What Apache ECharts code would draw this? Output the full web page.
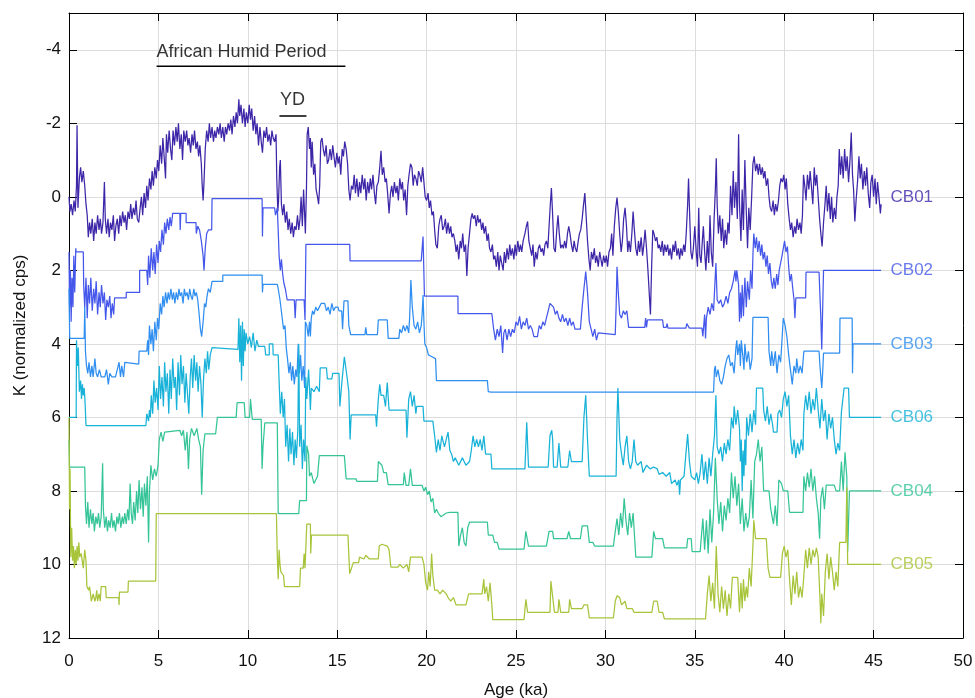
<!DOCTYPE html>
<html>
<head>
<meta charset="utf-8">
<title>K records CB01-CB06</title>
<script src="https://cdn.jsdelivr.net/npm/echarts@6.0.0/dist/echarts.min.js"></script>
<style>
  html, body { margin: 0; padding: 0; background: #fff; }
  #chart { width: 975px; height: 698px; }
</style>
</head>
<body>
<div id="chart"></div>
<script>
// ages in ka, K in normalized cps (axis is reversed)
const xTicks = [0, 5, 10, 15, 20, 25, 30, 35, 40, 45, 50]
const yTicks = [-4, -2, 0, 2, 4, 6, 8, 10, 12]

const seriesNames = ['CB01', 'CB02', 'CB03', 'CB06', 'CB04', 'CB05']
const seriesColors = ['#3e26a8', '#4557ea', '#2f8ef0', '#18b2d8', '#35c497', '#a7c43a']
const labelAge = 45.5
const labelK = [0, 2, 4, 6, 8, 10]

const ahpSpan = [4.9, 15.46]
const ahpK = -3.55
const ahpTextPos = [9.65, -3.95]
const ydSpan = [11.77, 13.28]
const ydK = -2.2
const ydTextPos = [12.5, -2.62]

const cb01 = [[0,0],[0.05,0.4],[0.12,0.2],[0.2,0.5],[0.28,0.1],[0.35,0.4],[0.42,-0.3],[0.45,-1.95],[0.5,0.3],[0.58,-0.5],[0.65,-0.8],[0.72,-0.4],[0.8,-0.7],[0.88,-0.3],[0.95,0.2],[1.02,0.5],[1.08,1.1],[1.15,0.7],[1.22,1.0],[1.3,0.6],[1.38,1.2],[1.45,0.7],[1.52,1.0],[1.6,0.5],[1.68,0.9],[1.75,0.6],[1.82,1.0],[1.9,0.7],[1.98,-0.4],[2.03,0.6],[2.1,1.0],[2.18,0.6],[2.25,1.1],[2.32,0.7],[2.4,0.9],[2.48,0.5],[2.55,1.2],[2.62,0.8],[2.7,0.6],[2.78,1.0],[2.85,0.5],[2.92,0.8],[3.0,0.4],[3.08,0.7],[3.15,0.5],[3.22,0.9],[3.3,0.4],[3.38,0.6],[3.45,0.2],[3.52,0.6],[3.6,0.3],[3.68,0.5],[3.75,0.1],[3.82,0.6],[3.9,0.7],[3.98,0.3],[4.05,0.0],[4.12,0.5],[4.2,-0.1],[4.28,0.3],[4.35,-0.3],[4.42,0.1],[4.5,-0.5],[4.58,-0.2],[4.65,-0.7],[4.72,-0.3],[4.8,-0.8],[4.88,-0.5],[4.95,-1.0],[5.02,-0.7],[5.1,-1.4],[5.18,-0.9],[5.25,-1.6],[5.32,-1.1],[5.4,-0.5],[5.45,-1.7],[5.52,-1.2],[5.6,-1.8],[5.68,-1.3],[5.75,-1.0],[5.82,-1.8],[5.9,-1.4],[5.98,-1.9],[6.05,-1.5],[6.12,-2.0],[6.2,-1.3],[6.28,-1.7],[6.35,-1.0],[6.42,-1.8],[6.5,-1.5],[6.58,-1.8],[6.65,-1.4],[6.72,-1.6],[6.8,-1.2],[6.88,-1.7],[6.95,-1.4],[7.02,-1.8],[7.1,-1.3],[7.18,-1.5],[7.25,-1.1],[7.32,-1.4],[7.4,-0.9],[7.45,-0.3],[7.5,0.1],[7.55,-0.4],[7.62,-1.3],[7.7,-1.8],[7.78,-1.5],[7.85,-2.0],[7.92,-1.6],[8.0,-1.9],[8.08,-1.5],[8.15,-1.8],[8.22,-1.6],[8.3,-1.9],[8.38,-1.7],[8.45,-2.0],[8.52,-1.6],[8.6,-1.9],[8.68,-1.5],[8.75,-1.9],[8.82,-1.7],[8.9,-2.0],[8.98,-1.8],[9.05,-2.1],[9.12,-1.7],[9.2,-2.2],[9.28,-1.9],[9.35,-2.3],[9.42,-2.0],[9.5,-2.65],[9.55,-2.2],[9.62,-2.5],[9.7,-2.0],[9.78,-2.4],[9.85,-1.9],[9.92,-2.3],[10.0,-2.0],[10.08,-2.5],[10.15,-2.1],[10.22,-2.4],[10.3,-1.8],[10.38,-2.2],[10.45,-1.7],[10.52,-2.0],[10.6,-1.4],[10.68,-1.9],[10.75,-1.5],[10.82,-1.2],[10.9,-1.8],[10.98,-1.6],[11.05,-1.9],[11.12,-1.5],[11.2,-1.7],[11.28,-1.4],[11.35,-1.8],[11.42,-1.6],[11.5,-1.5],[11.58,-1.7],[11.62,-0.5],[11.68,0.4],[11.72,0.1],[11.78,-0.8],[11.82,-1.0],[11.88,0.2],[11.95,0.5],[12.02,0.2],[12.1,0.7],[12.18,0.4],[12.25,0.9],[12.32,0.6],[12.4,1.0],[12.48,0.7],[12.55,1.1],[12.62,0.8],[12.7,0.9],[12.78,0.5],[12.85,0.9],[12.92,0.6],[12.98,0.0],[13.05,0.8],[13.12,-0.2],[13.18,0.5],[13.22,1.0],[13.28,-0.2],[13.32,-1.7],[13.38,-1.9],[13.45,-1.3],[13.5,-1.6],[13.55,-0.8],[13.6,-1.5],[13.68,-0.6],[13.75,-0.9],[13.82,-0.2],[13.9,0.0],[13.96,0.2],[14.02,-0.3],[14.08,-1.5],[14.15,-1.6],[14.22,-1.3],[14.3,-1.1],[14.38,-1.4],[14.45,-0.9],[14.52,-1.0],[14.6,-1.3],[14.68,-1.0],[14.75,-1.4],[14.82,-1.1],[14.9,-0.8],[14.98,-1.2],[15.05,-0.9],[15.12,-1.1],[15.2,-0.6],[15.28,-1.3],[15.35,-1.1],[15.42,-1.5],[15.5,-1.3],[15.58,-0.9],[15.65,-0.2],[15.72,0.1],[15.8,-0.3],[15.88,-0.2],[15.95,-0.6],[16.02,-0.1],[16.1,-0.5],[16.18,0.0],[16.25,-0.4],[16.32,-0.1],[16.4,-0.6],[16.48,-0.2],[16.55,-0.5],[16.62,0.1],[16.7,-0.4],[16.78,-0.1],[16.85,-0.5],[16.92,-0.2],[17.0,-0.6],[17.08,-0.1],[17.15,0.2],[17.22,-0.3],[17.3,-0.4],[17.38,-0.8],[17.45,-1.25],[17.52,-0.6],[17.6,-0.8],[17.68,-0.4],[17.75,-0.5],[17.82,-0.1],[17.9,0.45],[17.98,-0.1],[18.05,-0.3],[18.12,0.0],[18.2,-0.4],[18.28,-0.1],[18.35,-0.3],[18.42,0.1],[18.5,-0.5],[18.58,-0.2],[18.65,-0.4],[18.72,0.1],[18.8,-0.2],[18.88,0.5],[18.95,-0.3],[19.02,-0.6],[19.1,-0.9],[19.18,-0.8],[19.25,-0.3],[19.32,-0.6],[19.4,-0.5],[19.48,-0.3],[19.55,-0.7],[19.62,-0.6],[19.7,-0.4],[19.78,-0.8],[19.85,-0.4],[19.92,0.0],[20.0,0.1],[20.08,-0.1],[20.15,0.3],[20.22,0.1],[20.3,0.5],[20.38,0.4],[20.45,0.9],[20.52,1.3],[20.6,1.4],[20.68,0.8],[20.75,0.6],[20.82,0.5],[20.9,0.9],[20.98,0.8],[21.05,0.6],[21.12,1.0],[21.2,0.7],[21.28,1.0],[21.35,0.8],[21.42,1.1],[21.5,1.0],[21.58,1.2],[21.65,1.5],[21.72,1.3],[21.8,1.7],[21.88,1.2],[21.95,1.4],[22.02,1.0],[22.1,1.5],[22.18,1.3],[22.25,2.15],[22.32,1.4],[22.4,1.0],[22.48,0.6],[22.55,0.45],[22.62,0.6],[22.7,0.5],[22.78,0.8],[22.85,0.5],[22.92,0.7],[23.0,0.6],[23.08,0.9],[23.15,0.7],[23.22,1.0],[23.3,0.8],[23.38,1.2],[23.45,1.0],[23.52,1.4],[23.6,1.5],[23.68,1.3],[23.75,1.7],[23.82,1.6],[23.9,1.9],[23.98,1.5],[24.05,2.0],[24.12,1.6],[24.2,1.8],[24.28,2.0],[24.35,1.5],[24.42,1.8],[24.5,1.4],[24.58,1.7],[24.65,1.3],[24.72,1.6],[24.8,1.4],[24.88,1.7],[24.95,1.3],[25.02,1.6],[25.1,1.2],[25.18,1.5],[25.25,1.3],[25.32,1.5],[25.4,1.2],[25.5,1.0],[25.58,0.8],[25.65,0.67],[25.72,1.2],[25.8,1.4],[25.88,1.6],[25.95,1.3],[26.02,1.9],[26.1,1.5],[26.18,1.7],[26.25,1.4],[26.32,1.3],[26.4,1.5],[26.48,1.4],[26.55,1.6],[26.62,1.3],[26.7,1.2],[26.78,1.4],[26.85,0.8],[26.92,0.2],[26.98,-0.24],[27.05,0.5],[27.12,1.4],[27.2,1.5],[27.28,0.9],[27.35,0.5],[27.42,1.0],[27.5,1.4],[27.58,1.3],[27.65,1.4],[27.72,1.2],[27.8,1.4],[27.88,1.0],[27.95,0.8],[28.02,1.0],[28.1,1.3],[28.18,1.5],[28.25,1.2],[28.32,1.4],[28.4,1.5],[28.48,1.2],[28.55,1.0],[28.62,0.9],[28.7,0.6],[28.78,0.2],[28.85,-0.1],[28.92,0.5],[29.0,1.2],[29.08,1.7],[29.15,2.0],[29.22,1.5],[29.3,1.7],[29.38,1.4],[29.45,1.8],[29.52,1.6],[29.6,1.9],[29.68,1.5],[29.75,1.7],[29.82,1.9],[29.9,1.6],[29.98,1.8],[30.05,1.6],[30.12,1.9],[30.2,1.5],[30.28,1.4],[30.35,1.0],[30.42,1.6],[30.5,0.8],[30.58,0.3],[30.65,0.02],[30.72,0.4],[30.8,1.0],[30.88,1.5],[30.95,1.2],[31.02,0.6],[31.1,0.3],[31.18,0.8],[31.25,1.5],[31.32,1.2],[31.4,1.5],[31.48,1.0],[31.55,0.4],[31.62,0.9],[31.7,1.4],[31.78,1.6],[31.85,1.2],[31.92,1.5],[32.0,1.1],[32.08,1.6],[32.15,1.3],[32.22,0.9],[32.3,1.4],[32.38,2.0],[32.45,2.6],[32.52,3.2],[32.58,2.0],[32.65,0.9],[32.72,1.0],[32.8,1.2],[32.88,1.1],[32.95,1.4],[33.02,1.3],[33.1,1.5],[33.18,1.2],[33.25,1.6],[33.32,1.3],[33.4,1.5],[33.48,1.3],[33.55,1.6],[33.62,1.4],[33.7,1.7],[33.78,1.3],[33.85,1.5],[33.92,1.2],[34.0,1.6],[34.08,1.4],[34.15,1.7],[34.22,1.4],[34.3,1.6],[34.38,1.3],[34.45,1.5],[34.52,1.0],[34.6,0.2],[34.65,-0.5],[34.7,0.3],[34.78,1.5],[34.85,1.7],[34.92,1.4],[35.0,0.8],[35.08,1.5],[35.15,1.9],[35.22,0.3],[35.28,1.6],[35.35,1.8],[35.42,1.2],[35.48,0.8],[35.55,1.5],[35.62,2.0],[35.7,1.2],[35.78,1.8],[35.85,0.5],[35.92,1.5],[36.0,1.9],[36.08,0.6],[36.15,-0.2],[36.2,-1.05],[36.25,0.2],[36.32,1.0],[36.4,0.5],[36.48,1.2],[36.55,0.6],[36.62,1.4],[36.7,0.9],[36.78,1.3],[36.85,0.7],[36.92,1.0],[37.0,-0.3],[37.08,0.5],[37.15,-0.7],[37.22,0.3],[37.3,-0.4],[37.38,0.6],[37.45,-1.7],[37.5,0.2],[37.58,1.2],[37.65,-0.2],[37.72,0.9],[37.8,-1.0],[37.88,0.4],[37.95,1.4],[38.02,0.3],[38.1,0.9],[38.18,0.0],[38.25,-0.9],[38.32,-1.1],[38.4,-0.7],[38.48,-0.9],[38.55,-0.6],[38.62,-0.9],[38.7,-0.6],[38.78,-0.8],[38.85,-0.5],[38.92,-0.7],[39.0,-0.3],[39.08,-0.5],[39.15,0.0],[39.22,0.3],[39.3,0.4],[39.38,0.1],[39.45,0.5],[39.52,0.2],[39.6,0.4],[39.68,0.1],[39.75,-0.3],[39.82,-0.5],[39.9,-0.4],[39.98,-0.6],[40.05,-0.2],[40.12,-0.5],[40.2,0.2],[40.28,0.6],[40.35,0.9],[40.42,0.7],[40.5,1.1],[40.58,0.8],[40.65,1.0],[40.72,0.6],[40.8,0.9],[40.88,0.7],[40.95,1.0],[41.02,0.5],[41.08,-0.6],[41.15,-0.3],[41.22,0.1],[41.3,-0.6],[41.38,-0.2],[41.45,-0.7],[41.52,-0.3],[41.6,0.2],[41.68,-0.8],[41.75,-0.3],[41.82,-0.6],[41.9,0.0],[41.98,0.6],[42.05,1.0],[42.12,1.35],[42.2,0.7],[42.28,0.2],[42.35,-0.3],[42.42,0.4],[42.5,-0.1],[42.58,0.6],[42.65,0.0],[42.72,0.7],[42.8,0.3],[42.88,0.6],[42.95,0.0],[43.02,-0.3],[43.08,-1.3],[43.15,-0.6],[43.22,-1.1],[43.3,-0.5],[43.38,-1.3],[43.45,-0.7],[43.52,-1.1],[43.6,-0.4],[43.68,-1.0],[43.75,-1.75],[43.82,-0.6],[43.88,-0.2],[43.95,0.67],[44.02,0.1],[44.1,-0.4],[44.18,-1.1],[44.25,-0.5],[44.32,-0.9],[44.4,-0.2],[44.48,-0.7],[44.55,-0.3],[44.62,-0.8],[44.7,-0.1],[44.78,0.3],[44.85,-0.4],[44.92,-0.6],[45.0,0.0],[45.08,-0.5],[45.15,0.2],[45.22,-0.4],[45.3,0.0],[45.38,0.45],[45.42,0.2]]

const cb02 = [[0,1.5],[0.03,3.0],[0.08,2.0],[0.12,3.4],[0.17,2.2],[0.22,3.0],[0.27,1.6],[0.32,2.6],[0.38,1.4],[0.4,1.5],[0.8,1.5],[0.82,2.4],[0.88,3.0],[0.95,2.2],[1.02,3.3],[1.08,2.4],[1.15,2.9],[1.22,2.2],[1.3,3.1],[1.38,2.5],[1.45,2.9],[1.52,2.3],[1.6,3.2],[1.68,2.6],[1.75,3.0],[1.82,2.4],[1.9,2.9],[1.98,2.6],[2.05,3.35],[2.12,2.8],[2.2,3.0],[2.28,2.7],[2.35,3.3],[2.42,2.9],[2.5,3.2],[2.55,2.75],[3.2,2.75],[3.2,2.6],[3.95,2.6],[3.95,2.0],[4.35,2.0],[4.4,2.4],[4.45,1.6],[4.52,2.2],[4.6,1.4],[4.68,2.0],[4.75,1.5],[4.82,2.1],[4.9,1.3],[4.98,1.8],[5.05,1.2],[5.12,1.5],[5.2,0.9],[5.28,1.3],[5.35,0.7],[5.42,1.0],[5.5,0.6],[5.58,0.9],[5.65,0.55],[5.72,0.8],[5.8,0.45],[6.2,0.45],[6.22,0.9],[6.25,0.45],[6.55,0.45],[6.55,0.7],[7.1,0.7],[7.12,1.0],[7.2,0.8],[7.3,0.9],[7.4,1.2],[7.5,1.6],[7.55,2.0],[7.62,1.4],[7.7,1.0],[7.8,0.9],[7.98,0.9],[8.0,0.05],[10.8,0.05],[10.82,1.08],[10.85,0.3],[11.5,0.3],[11.55,0.5],[11.65,0.3],[11.7,0.9],[11.75,1.6],[11.82,2.0],[11.88,1.7],[11.95,2.1],[12.02,2.35],[12.1,2.5],[12.2,2.8],[12.6,2.8],[12.65,3.3],[12.7,2.8],[13.15,2.8],[13.2,3.35],[13.25,1.29],[15.7,1.29],[15.72,1.74],[19.7,1.74],[19.8,1.08],[19.88,2.7],[21.75,2.7],[21.76,3.18],[23.65,3.18],[23.75,3.6],[23.85,3.9],[23.95,3.6],[24.05,3.8],[24.15,3.5],[24.25,4.25],[24.32,3.7],[24.4,3.6],[24.5,3.9],[24.6,3.6],[24.7,3.8],[24.8,3.6],[24.9,3.7],[25.0,3.4],[25.1,3.5],[25.2,3.25],[25.3,3.6],[25.4,3.4],[25.5,3.5],[25.6,3.3],[25.7,3.6],[25.8,3.5],[25.9,3.6],[26.0,3.8],[26.2,3.8],[26.3,3.5],[26.4,3.6],[26.5,3.4],[26.6,3.5],[26.7,3.3],[26.8,3.1],[26.9,2.9],[27.0,2.85],[27.1,3.0],[27.2,3.2],[27.3,3.1],[27.4,3.3],[27.5,3.4],[27.6,3.2],[27.7,3.4],[27.8,3.3],[27.9,3.5],[28.0,3.3],[28.1,3.5],[28.2,3.4],[28.3,3.6],[28.4,3.55],[28.6,3.6],[28.7,3.0],[28.8,2.5],[28.9,2.03],[29.0,2.6],[29.1,3.4],[29.2,3.6],[29.3,3.8],[29.4,3.6],[29.5,3.9],[29.6,3.7],[29.7,3.75],[30.55,3.75],[30.6,3.0],[30.65,1.9],[30.72,2.6],[30.8,3.2],[30.9,3.3],[31.0,3.1],[31.1,3.2],[31.2,3.1],[31.3,3.55],[32.2,3.55],[32.25,3.3],[32.3,3.55],[32.35,3.35],[33.2,3.35],[33.25,3.55],[33.4,3.55],[33.45,3.45],[33.5,3.57],[34.5,3.57],[34.55,3.45],[34.65,3.45],[34.7,3.57],[35.4,3.57],[35.45,3.8],[35.55,3.2],[35.6,3.85],[35.65,3.3],[35.75,3.0],[35.85,3.2],[35.95,2.9],[36.05,3.1],[36.12,2.4],[36.18,1.8],[36.25,2.8],[36.35,2.9],[36.45,2.8],[36.55,3.0],[36.65,2.9],[36.75,2.7],[36.85,2.9],[36.95,2.6],[37.05,2.5],[37.15,2.3],[37.25,2.0],[37.3,2.3],[37.35,2.0],[37.45,2.4],[37.5,3.4],[37.55,2.6],[37.6,3.3],[37.65,2.4],[37.72,3.25],[37.8,2.2],[37.88,3.0],[37.95,2.3],[38.05,2.8],[38.12,2.0],[38.2,2.5],[38.25,1.6],[38.3,1.0],[38.38,1.4],[38.45,1.1],[38.52,1.5],[38.6,1.2],[38.68,1.6],[38.75,1.3],[38.82,1.7],[38.9,1.5],[38.98,1.9],[39.05,1.6],[39.12,2.1],[39.2,1.8],[39.28,2.3],[39.35,2.5],[39.42,2.2],[39.5,2.5],[39.58,2.1],[39.65,2.4],[39.72,2.0],[39.8,1.8],[39.88,1.6],[39.95,1.4],[40.02,1.2],[40.1,1.5],[40.18,1.35],[40.25,1.9],[40.32,2.3],[40.4,2.1],[40.48,2.5],[40.55,2.8],[40.6,3.3],[40.65,2.75],[41.2,2.75],[41.22,2.05],[41.95,2.05],[42.0,2.7],[42.05,3.3],[42.1,4.15],[42.18,4.15],[42.2,2.0],[45.42,2.0]]

const cb03 = [[0,2.5],[0.04,3.85],[0.85,3.85],[0.88,3.0],[0.92,4.2],[0.98,4.6],[1.05,4.8],[1.12,4.5],[1.2,4.9],[1.28,4.6],[1.35,4.9],[1.45,4.4],[1.52,4.8],[1.6,4.9],[1.7,4.7],[1.8,4.9],[1.9,4.85],[2.0,4.9],[2.1,4.7],[2.2,5.1],[2.28,4.8],[2.4,4.9],[2.5,4.86],[2.6,4.9],[2.7,4.7],[2.8,4.5],[2.88,4.9],[2.95,4.6],[3.05,4.9],[3.12,4.5],[3.2,4.55],[3.9,4.55],[3.92,4.2],[4.35,4.2],[4.4,3.9],[4.45,4.3],[4.5,3.5],[4.58,4.0],[4.65,3.6],[4.72,4.2],[4.8,3.4],[4.88,3.9],[4.95,3.3],[5.02,3.6],[5.1,2.9],[5.18,3.2],[5.25,2.7],[5.32,3.0],[5.4,2.6],[5.48,2.9],[5.55,2.6],[5.62,2.8],[5.7,2.5],[5.78,2.8],[5.85,2.6],[5.92,2.9],[6.0,2.6],[6.08,2.8],[6.15,2.5],[6.22,2.7],[6.3,2.6],[6.38,2.9],[6.45,2.5],[6.52,2.7],[6.6,2.6],[6.68,2.8],[6.75,2.5],[6.82,2.7],[6.9,2.8],[6.98,2.5],[7.05,2.7],[7.12,2.6],[7.2,2.8],[7.28,3.2],[7.35,3.6],[7.42,3.8],[7.5,3.4],[7.58,2.9],[7.65,3.0],[7.72,2.7],[7.8,2.5],[7.9,2.6],[8.0,2.3],[8.6,2.3],[8.6,2.13],[10.8,2.13],[10.82,2.6],[10.85,2.38],[11.65,2.38],[11.7,2.5],[11.8,2.8],[11.9,3.2],[12.0,3.6],[12.08,3.5],[12.15,4.1],[12.22,4.4],[12.3,4.8],[12.38,4.5],[12.45,5.0],[12.52,4.6],[12.6,5.1],[12.68,4.7],[12.75,4.9],[12.82,4.0],[12.88,4.8],[12.95,4.3],[13.02,5.0],[13.1,4.6],[13.18,5.2],[13.22,3.4],[13.3,3.5],[13.38,3.8],[13.45,3.4],[13.5,3.8],[13.55,3.3],[13.62,3.1],[13.7,3.2],[13.8,3.0],[13.9,3.1],[14.0,3.0],[14.1,2.9],[14.3,2.9],[14.4,3.1],[14.5,3.0],[14.6,3.2],[14.7,2.9],[14.8,3.1],[14.9,3.0],[15.05,3.0],[15.1,3.1],[15.25,3.1],[15.3,3.6],[15.38,2.83],[15.6,2.83],[15.65,3.5],[15.75,3.75],[16.55,3.75],[16.6,3.55],[16.65,3.75],[17.25,3.75],[17.3,3.35],[17.8,3.35],[17.85,3.85],[18.45,3.85],[18.5,3.6],[18.6,3.7],[18.7,3.5],[18.8,3.65],[18.9,3.5],[19.0,3.7],[19.05,3.3],[19.12,2.26],[19.2,3.0],[19.3,3.5],[19.4,3.6],[19.5,3.4],[19.6,3.7],[19.7,3.5],[19.75,3.2],[19.8,2.67],[19.85,3.4],[19.9,4.0],[20.0,4.1],[20.1,4.3],[20.3,4.35],[20.5,4.4],[20.55,5.0],[23.4,5.0],[23.45,5.3],[23.6,5.31],[36.05,5.31],[36.1,4.7],[36.15,4.6],[36.2,4.9],[36.3,4.7],[36.4,5.0],[36.5,5.1],[36.6,4.9],[36.7,4.6],[36.8,4.4],[36.9,4.3],[37.0,4.6],[37.1,4.5],[37.2,4.8],[37.3,4.1],[37.35,3.9],[37.4,4.3],[37.5,4.0],[37.55,4.6],[37.6,3.9],[37.7,4.4],[37.75,4.7],[37.8,4.0],[37.9,4.5],[38.0,4.2],[38.1,4.7],[38.2,4.4],[38.25,3.28],[39.1,3.28],[39.15,4.2],[39.25,4.6],[39.3,4.2],[39.4,4.6],[39.5,4.2],[39.6,4.8],[39.7,4.3],[39.8,4.5],[39.9,3.7],[39.95,3.3],[40.05,3.5],[40.15,3.8],[40.25,4.3],[40.35,4.7],[40.45,5.1],[40.55,4.6],[40.65,4.8],[40.7,4.4],[40.8,4.8],[40.9,4.6],[41.0,4.8],[41.1,4.2],[41.95,4.2],[42.0,4.6],[42.1,5.2],[42.15,4.8],[42.2,4.25],[43.1,4.25],[43.12,3.3],[43.8,3.3],[43.82,4.8],[43.85,4.0],[45.42,4.0]]

const cb06 = [[0,6.0],[0.4,6.0],[0.42,3.9],[0.47,4.6],[0.52,4.1],[0.58,5.3],[0.65,5.0],[0.7,5.5],[0.75,5.1],[0.8,5.4],[0.85,5.2],[0.9,5.6],[0.95,6.22],[4.3,6.22],[4.35,5.9],[4.45,6.1],[4.5,5.8],[4.55,6.0],[4.6,5.4],[4.68,5.9],[4.75,5.0],[4.82,5.6],[4.9,5.2],[4.98,5.8],[5.05,4.6],[5.12,5.5],[5.2,4.9],[5.28,5.7],[5.35,4.5],[5.42,5.3],[5.5,4.8],[5.58,5.9],[5.65,4.7],[5.72,5.5],[5.8,4.4],[5.88,5.2],[5.95,4.9],[6.02,5.8],[6.1,4.5],[6.18,5.4],[6.25,4.3],[6.32,5.1],[6.4,4.6],[6.48,5.6],[6.55,4.8],[6.62,5.3],[6.7,5.9],[6.78,4.9],[6.85,4.4],[6.92,5.2],[7.0,4.3],[7.08,5.0],[7.15,4.5],[7.22,5.3],[7.3,4.6],[7.38,5.1],[7.45,6.0],[7.52,5.0],[7.6,4.4],[7.68,4.8],[7.75,4.2],[7.82,4.7],[7.9,4.3],[8.0,4.1],[8.1,4.15],[9.45,4.15],[9.5,3.3],[9.55,4.5],[9.6,3.5],[9.65,5.0],[9.7,3.4],[9.75,4.6],[9.8,3.6],[9.85,4.2],[9.9,3.7],[10.0,4.0],[10.1,3.8],[10.2,4.1],[10.3,3.7],[10.4,4.2],[10.5,3.9],[10.6,4.07],[10.95,4.07],[11.0,4.3],[11.2,4.3],[11.2,4.0],[11.4,4.0],[11.42,4.3],[11.7,4.3],[11.75,5.0],[11.82,5.9],[11.9,5.3],[11.98,6.0],[12.05,5.5],[12.12,6.8],[12.2,6.2],[12.28,7.2],[12.35,6.3],[12.42,7.0],[12.5,6.4],[12.58,7.3],[12.65,6.6],[12.72,7.1],[12.8,6.3],[12.85,4.0],[12.9,6.8],[12.98,6.2],[13.05,7.4],[13.12,6.6],[13.2,7.2],[13.24,4.9],[13.3,5.5],[13.4,4.7],[13.45,5.2],[13.5,5.8],[13.55,5.2],[13.7,5.3],[13.85,5.15],[14.0,5.3],[14.05,4.65],[14.4,4.65],[14.45,4.95],[14.7,4.95],[14.75,4.8],[15.1,4.8],[15.15,5.7],[15.25,5.1],[15.4,4.35],[15.55,4.9],[15.65,5.3],[15.72,6.6],[15.78,5.93],[17.15,5.93],[17.2,6.25],[17.3,5.5],[17.38,5.1],[17.45,5.4],[17.6,5.4],[17.7,5.7],[17.8,5.05],[17.9,5.8],[18.85,5.8],[18.9,6.55],[19.0,5.5],[19.1,5.3],[19.2,5.7],[19.3,5.4],[19.4,5.9],[19.45,5.7],[19.8,5.7],[19.85,6.1],[20.35,6.1],[20.45,6.5],[20.55,6.95],[20.65,6.6],[20.75,6.9],[20.85,6.5],[21.0,6.8],[21.1,6.6],[21.2,6.4],[21.3,6.9],[21.4,7.0],[21.5,7.2],[21.6,7.1],[21.8,7.3],[22.0,7.1],[22.2,7.3],[22.4,7.2],[22.5,6.9],[22.6,6.5],[22.7,6.8],[22.8,6.6],[22.9,6.8],[23.0,6.6],[23.1,6.9],[23.2,6.5],[23.3,7.0],[23.6,7.0],[23.65,7.4],[25.5,7.4],[25.6,6.13],[25.7,7.35],[26.8,7.35],[26.9,6.5],[27.0,6.35],[27.05,6.6],[27.1,7.35],[27.3,7.35],[27.4,6.7],[27.5,7.35],[27.9,7.35],[28.0,6.9],[28.1,7.2],[28.7,7.2],[28.8,6.0],[28.9,5.4],[29.0,6.6],[29.1,7.6],[30.6,7.6],[30.65,6.0],[30.7,5.2],[30.8,6.6],[30.9,7.0],[31.0,7.3],[31.1,6.8],[31.2,6.5],[31.3,7.2],[31.4,7.4],[31.5,7.2],[31.6,6.6],[31.7,7.2],[31.8,7.3],[32.0,7.2],[32.1,7.5],[32.2,7.4],[32.3,7.3],[32.5,7.4],[32.7,7.35],[32.9,7.4],[33.0,7.55],[33.2,7.5],[33.4,7.6],[33.6,7.5],[33.7,7.8],[33.9,7.7],[34.0,7.85],[34.1,7.7],[34.15,8.1],[34.2,7.7],[34.4,7.6],[34.5,7.0],[34.6,6.45],[34.7,7.2],[34.8,7.6],[35.0,7.7],[35.1,7.5],[35.2,7.8],[35.3,7.5],[35.4,7.0],[35.5,7.7],[35.6,7.2],[35.7,7.8],[35.8,7.1],[35.9,7.6],[36.0,7.0],[36.1,6.5],[36.18,5.4],[36.25,6.8],[36.35,7.0],[36.45,6.8],[36.55,7.2],[36.65,6.7],[36.75,7.0],[36.85,6.6],[36.95,6.9],[37.05,6.0],[37.15,6.3],[37.2,5.7],[37.3,6.2],[37.4,5.8],[37.5,6.3],[37.55,7.2],[37.6,6.6],[37.65,8.0],[37.7,6.9],[37.75,7.6],[37.8,6.6],[37.85,7.3],[37.9,6.0],[38.0,6.5],[38.1,5.9],[38.2,6.4],[38.3,5.8],[38.4,6.2],[38.45,5.2],[38.8,5.2],[38.85,5.8],[38.95,6.1],[39.05,5.7],[39.15,6.2],[39.25,5.9],[39.35,6.2],[39.4,6.4],[39.6,6.4],[39.65,5.9],[39.75,5.8],[39.85,6.0],[39.95,5.5],[40.05,5.3],[40.15,5.7],[40.25,5.4],[40.35,6.5],[40.45,7.0],[40.55,6.6],[40.65,7.1],[40.75,6.7],[40.85,7.0],[40.95,6.6],[41.05,6.9],[41.1,5.9],[41.2,5.4],[41.3,5.8],[41.4,5.3],[41.5,5.9],[41.6,5.5],[41.7,5.8],[41.8,5.2],[41.9,5.8],[42.0,6.3],[42.1,5.5],[42.2,6.1],[42.3,5.8],[42.4,6.6],[42.5,5.9],[42.6,6.3],[42.7,6.0],[42.8,6.6],[42.9,7.0],[43.0,6.7],[43.1,6.9],[43.2,5.85],[43.35,5.2],[43.6,5.2],[43.65,6.0],[45.42,6.0]]

const cb04 = [[0,6.6],[0.03,7.35],[0.88,7.35],[0.92,8.4],[0.98,8.9],[1.05,8.3],[1.12,9.0],[1.2,8.5],[1.28,8.9],[1.35,8.6],[1.42,9.1],[1.5,8.7],[1.58,8.9],[1.65,8.6],[1.72,9.0],[1.8,8.7],[1.88,7.25],[1.92,8.5],[2.0,9.0],[2.08,8.7],[2.15,9.1],[2.22,8.8],[2.3,9.0],[2.38,8.6],[2.45,9.0],[2.52,8.8],[2.6,9.1],[2.68,8.7],[2.75,8.9],[2.82,8.6],[2.9,9.0],[2.98,8.7],[3.05,8.9],[3.12,8.6],[3.2,8.9],[3.28,8.5],[3.35,8.8],[3.42,7.8],[3.48,8.6],[3.55,8.9],[3.62,8.3],[3.7,8.8],[3.78,8.0],[3.85,8.6],[3.92,7.7],[4.0,8.5],[4.08,7.9],[4.15,8.7],[4.22,7.8],[4.3,8.4],[4.38,7.6],[4.45,9.4],[4.5,8.0],[4.58,7.3],[4.68,7.7],[4.78,7.4],[4.88,7.6],[4.98,7.3],[5.05,6.6],[5.15,6.4],[5.25,6.65],[5.35,6.4],[5.4,6.35],[6.2,6.35],[6.3,6.5],[6.4,6.35],[6.5,6.9],[6.6,6.4],[6.68,7.4],[6.75,6.6],[6.85,6.3],[7.0,6.5],[7.15,6.3],[7.25,6.6],[7.35,6.8],[7.42,8.1],[7.5,6.9],[7.6,6.45],[8.2,6.45],[8.3,6.0],[9.35,6.0],[9.4,5.6],[9.8,5.6],[9.85,6.0],[10.1,6.0],[10.15,5.5],[10.25,6.05],[10.75,6.05],[10.8,7.4],[10.85,6.8],[10.95,6.15],[11.65,6.15],[11.7,8.62],[12.85,8.62],[12.9,8.26],[13.28,8.26],[13.3,6.77],[13.4,7.0],[13.45,7.6],[13.55,7.5],[13.7,7.8],[13.9,7.6],[14.0,7.04],[15.4,7.04],[15.5,7.67],[16.05,7.67],[16.1,7.74],[17.25,7.74],[17.3,7.2],[17.5,7.3],[17.6,7.5],[17.75,7.5],[17.85,7.83],[18.7,7.83],[18.75,7.5],[18.85,7.85],[19.0,7.85],[19.1,7.4],[19.2,7.85],[19.75,7.85],[19.85,8.0],[19.95,7.9],[20.05,8.1],[20.15,8.0],[20.25,8.3],[20.35,8.2],[20.45,8.6],[20.55,8.5],[20.65,8.6],[20.8,8.7],[21.1,8.6],[21.3,8.58],[21.75,8.58],[21.8,9.5],[21.9,9.2],[22.0,9.0],[22.1,9.4],[22.2,9.5],[22.3,9.0],[22.4,8.85],[23.4,8.85],[23.45,9.2],[23.7,9.2],[23.8,9.4],[23.95,9.4],[24.05,9.58],[25.45,9.58],[25.55,9.1],[25.7,9.5],[26.7,9.5],[26.85,9.1],[27.05,9.1],[27.1,9.3],[27.85,9.3],[27.95,9.1],[28.05,9.3],[28.6,9.3],[28.7,8.95],[29.0,8.95],[29.1,9.4],[29.3,9.4],[29.4,9.5],[30.45,9.5],[30.55,9.1],[30.65,8.75],[30.75,9.2],[30.85,8.6],[30.95,9.0],[31.05,8.2],[31.15,8.8],[31.25,9.2],[31.35,8.6],[31.45,9.0],[31.55,8.6],[31.7,9.8],[32.6,9.8],[32.7,9.1],[32.8,9.3],[33.2,9.3],[33.3,9.55],[34.55,9.55],[34.6,9.3],[34.8,9.3],[34.85,9.65],[35.3,9.65],[35.45,8.75],[35.55,9.6],[35.65,8.8],[35.75,9.7],[35.85,8.5],[35.95,9.4],[36.05,8.6],[36.15,7.1],[36.25,8.2],[36.35,8.9],[36.45,8.3],[36.55,9.1],[36.65,8.4],[36.75,8.8],[36.85,8.2],[36.95,8.6],[37.05,7.5],[37.15,8.2],[37.25,7.6],[37.35,8.4],[37.45,7.8],[37.55,8.9],[37.65,8.2],[37.75,9.1],[37.85,8.6],[37.95,9.0],[38.05,8.7],[38.15,7.7],[38.25,8.75],[38.35,7.2],[38.45,7.0],[38.55,6.6],[38.65,7.2],[38.75,6.8],[38.85,8.0],[39.15,8.0],[39.25,8.5],[39.4,8.9],[39.5,8.4],[39.6,8.95],[39.7,7.7],[39.85,7.8],[39.95,8.0],[40.2,8.0],[40.3,8.58],[41.05,8.58],[41.1,7.6],[41.2,8.0],[41.3,7.5],[41.4,7.9],[41.5,7.4],[41.6,8.0],[41.7,7.6],[41.8,8.2],[41.9,8.6],[41.98,9.3],[42.05,8.2],[42.15,7.9],[42.25,8.5],[42.35,7.84],[42.8,7.84],[42.9,8.0],[43.1,8.0],[43.2,7.2],[43.3,8.0],[43.4,6.95],[43.5,7.6],[43.55,9.65],[43.62,9.65],[43.65,8.0],[45.42,8.0]]

const cb05 = [[0,6.0],[0.03,8.5],[0.06,7.4],[0.1,9.8],[0.15,9.0],[0.2,9.9],[0.25,9.5],[0.3,10.1],[0.35,9.6],[0.4,10.0],[0.45,9.5],[0.5,9.9],[0.55,9.4],[0.6,9.8],[0.68,9.7],[0.75,9.7],[0.8,10.1],[0.88,9.6],[0.95,9.9],[1.0,10.6],[1.1,10.7],[1.15,10.6],[1.25,11.0],[1.35,10.8],[1.45,11.0],[1.5,10.9],[1.55,10.7],[1.6,11.0],[1.68,10.8],[1.75,11.0],[1.8,10.6],[2.05,10.6],[2.08,10.9],[2.78,10.9],[2.8,11.1],[2.82,10.75],[3.3,10.75],[3.32,10.45],[4.85,10.45],[4.88,8.62],[11.6,8.62],[11.65,9.8],[11.7,10.4],[11.75,9.6],[11.8,10.0],[11.85,10.2],[12.0,10.3],[12.05,10.6],[12.9,10.6],[12.95,10.1],[13.1,10.1],[13.15,9.7],[13.2,10.1],[13.3,8.9],[13.5,8.9],[13.52,9.7],[13.56,9.2],[15.6,9.2],[15.7,10.25],[15.8,10.1],[15.9,9.95],[16.2,9.95],[16.25,9.8],[16.5,9.85],[16.6,9.75],[16.8,9.85],[17.3,9.85],[17.35,9.5],[17.5,9.45],[17.8,9.5],[17.9,9.6],[18.0,10.07],[18.4,10.07],[18.5,10.0],[18.7,10.1],[18.9,10.0],[19.0,10.2],[19.1,9.8],[19.75,9.8],[19.85,10.0],[19.95,10.5],[20.05,10.7],[20.12,10.2],[20.2,10.6],[20.28,9.7],[20.35,10.3],[20.45,10.7],[20.6,10.7],[20.75,10.8],[20.9,10.7],[21.1,10.8],[21.2,10.9],[21.35,11.0],[21.5,10.9],[21.65,11.1],[22.2,11.1],[22.35,10.8],[23.1,10.8],[23.2,10.4],[23.25,10.8],[23.35,10.6],[23.45,11.0],[23.55,10.5],[23.65,11.1],[23.7,11.5],[25.45,11.5],[25.55,10.95],[25.65,11.3],[26.9,11.3],[26.95,10.45],[27.05,10.45],[27.15,11.3],[27.35,11.3],[27.4,10.95],[27.5,11.3],[27.95,11.3],[28.0,10.95],[28.1,11.2],[28.7,11.2],[28.8,11.1],[29.0,11.1],[29.1,11.45],[30.45,11.45],[30.55,11.0],[30.65,10.85],[30.8,10.9],[30.9,11.1],[31.1,11.0],[31.2,11.2],[31.5,11.2],[31.6,11.3],[32.6,11.3],[32.7,11.0],[32.9,11.0],[33.0,11.3],[33.2,11.3],[33.3,11.48],[35.6,11.48],[35.7,10.8],[35.8,10.3],[35.9,11.0],[36.0,10.5],[36.1,11.2],[36.2,9.5],[36.3,10.8],[36.4,11.3],[36.5,10.6],[36.6,11.2],[36.7,10.7],[36.8,11.4],[36.9,10.8],[37.0,11.2],[37.1,10.35],[37.4,10.35],[37.5,11.3],[37.58,10.5],[37.65,11.2],[37.72,10.4],[37.8,11.0],[37.88,10.6],[37.95,10.9],[38.05,10.1],[38.15,10.6],[38.25,9.5],[38.3,8.8],[38.4,9.3],[39.0,9.3],[39.1,10.1],[39.2,10.35],[39.8,10.35],[39.9,9.7],[40.0,9.5],[40.1,9.8],[40.2,9.6],[40.3,10.4],[40.4,11.1],[40.5,10.3],[40.6,10.8],[40.7,10.2],[40.8,10.9],[40.9,10.6],[41.0,10.9],[41.1,10.3],[41.2,9.6],[41.3,10.1],[41.4,9.55],[41.5,10.0],[41.6,9.6],[41.7,9.8],[41.8,9.55],[41.9,9.8],[42.0,10.9],[42.05,11.6],[42.1,10.8],[42.2,11.4],[42.3,10.2],[42.4,9.7],[42.5,10.4],[42.6,9.8],[42.7,10.2],[42.8,10.7],[42.9,10.2],[43.0,10.6],[43.1,9.4],[43.45,9.4],[43.5,7.9],[43.55,10.0],[45.42,10.0]]

const records = [cb01, cb02, cb03, cb06, cb04, cb05]

const textFont = '"Liberation Sans", Arial, sans-serif'
const textColor = '#111'

function getOption() {
  const lineSeries = records.map((data, i) => ({
    name: seriesNames[i],
    type: 'line',
    data: data,
    showSymbol: false,
    symbol: 'none',
    silent: true,
    lineStyle: { color: seriesColors[i], width: 1.25 },
    z: 2
  }))

  const annotationLines = [
    [[ahpSpan[0], ahpK], [ahpSpan[1], ahpK]],
    [[ydSpan[0], ydK], [ydSpan[1], ydK]]
  ].map(d => ({
    type: 'line',
    data: d,
    symbol: 'none',
    silent: true,
    lineStyle: { color: '#000', width: 1.6 },
    z: 3
  }))

  const textSeries = {
    type: 'scatter',
    symbolSize: 0,
    silent: true,
    z: 4,
    data: [
      { value: ahpTextPos, name: 'African Humid Period' },
      { value: ydTextPos, name: 'YD' }
    ],
    label: {
      show: true,
      position: 'inside',
      formatter: p => p.name,
      color: '#000',
      fontFamily: textFont,
      fontSize: 18
    }
  }

  const nameSeries = {
    type: 'scatter',
    symbolSize: 0,
    silent: true,
    z: 4,
    data: seriesNames.map((n, i) => ({
      value: [labelAge, labelK[i]],
      name: n,
      label: { color: seriesColors[i] }
    })),
    label: {
      show: true,
      position: 'right',
      distance: 8,
      formatter: p => p.name,
      fontFamily: textFont,
      fontSize: 17
    }
  }

  const axisLine = { show: true, onZero: false, lineStyle: { color: '#000', width: 1 } }
  const axisTick = { show: true, inside: true, length: 8, lineStyle: { color: '#000' } }

  return {
    animation: false,
    backgroundColor: '#fff',
    grid: { left: 69, right: 12, top: 13, bottom: 60, containLabel: false, outerBoundsMode: 'none' },
    xAxis: [
      {
        type: 'value', min: 0, max: 50, interval: 5, position: 'bottom',
        name: 'Age (ka)', nameLocation: 'middle', nameGap: 44,
        nameTextStyle: { fontFamily: textFont, fontSize: 17, color: textColor },
        axisLine: axisLine,
        axisTick: { ...axisTick, customValues: xTicks },
        axisLabel: { customValues: xTicks, margin: 15, fontFamily: textFont, fontSize: 17, color: textColor },
        splitLine: { show: true, lineStyle: { color: '#dcdcdc', width: 1 } }
      },
      {
        type: 'value', min: 0, max: 50, interval: 5, position: 'top',
        axisLine: axisLine,
        axisTick: { ...axisTick, customValues: xTicks },
        axisLabel: { show: false },
        splitLine: { show: false }
      }
    ],
    yAxis: [
      {
        type: 'value', min: -5, max: 12, interval: 1, inverse: true, position: 'left',
        name: 'K (normalized cps)', nameLocation: 'middle', nameGap: 40,
        nameTextStyle: { fontFamily: textFont, fontSize: 17, color: textColor },
        axisLine: axisLine,
        axisTick: { ...axisTick, customValues: yTicks },
        axisLabel: { customValues: yTicks, margin: 8, fontFamily: textFont, fontSize: 17, color: textColor },
        splitLine: { show: true, lineStyle: { color: '#dcdcdc', width: 1 } }
      },
      {
        type: 'value', min: -5, max: 12, interval: 1, inverse: true, position: 'right',
        axisLine: axisLine,
        axisTick: { ...axisTick, customValues: yTicks },
        axisLabel: { show: false },
        splitLine: { show: false }
      }
    ],
    series: [...lineSeries, ...annotationLines, textSeries, nameSeries]
  }
}

const chart = echarts.init(document.getElementById('chart'), null, { renderer: 'canvas' })
chart.setOption(getOption())
window.addEventListener('resize', () => chart.resize())
</script>
</body>
</html>
